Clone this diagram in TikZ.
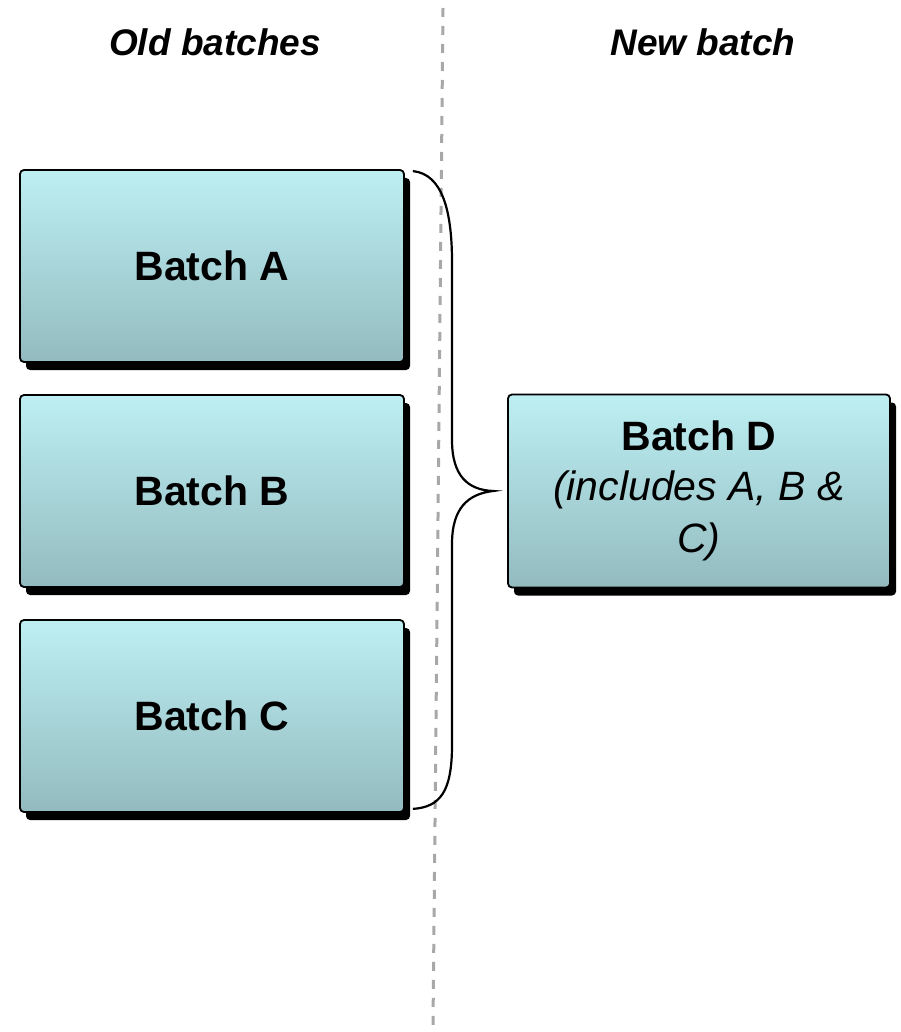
\documentclass[tikz,border=0pt]{standalone}
\usepackage{fontspec}
\setmainfont{Liberation Sans}
\usetikzlibrary{shadows}
\definecolor{boxtop}{HTML}{BDEFF3}
\definecolor{boxbot}{HTML}{93BBBF}
\definecolor{divgray}{HTML}{A8A8A8}
\tikzset{
  batchbox/.style={rounded corners=4pt, draw=black, line width=1.8pt,
    top color=boxtop, bottom color=boxbot,
    minimum width=384pt, minimum height=192pt, inner sep=0pt,
    general shadow={fill=black, rounded corners=5pt, shadow xshift=6pt, shadow yshift=-8pt},
    font=\fontsize{41}{52}\selectfont\bfseries, align=center},
  heading/.style={font=\fontsize{37}{44}\selectfont\bfseries\itshape},
  divider/.style={divgray, line width=3pt, dash pattern=on 9pt off 9pt},
  bracket/.style={black, line width=2.2pt}
}
\begin{document}
\begin{tikzpicture}[x=1pt,y=-1pt]
\useasboundingbox (0,0) rectangle (900,1032);
\coordinate (dtop) at (443,8);
\coordinate (dbot) at (433,1025);
\draw[divider] (dtop) -- (dbot);
\node[heading] (old) at (215,42) {Old batches};
\node[heading] (new) at (703,42) {New batch};
\node[batchbox] (A) at (212,266) {Batch A};
\node[batchbox] (B) at (212,491) {Batch B};
\node[batchbox] (C) at (212,716) {Batch C};
\node[batchbox, minimum width=382pt, minimum height=193pt] (D) at (699,491)
  {Batch D\\[-2pt]{\mdseries\itshape (includes A, B \&}\\{\mdseries\itshape C)}};
\coordinate (btop) at ([xshift=8pt,yshift=-2pt]A.north east);
\coordinate (bbot) at ([xshift=8pt,yshift=4pt]C.south east);
\coordinate (btip) at ([xshift=-14pt]D.west);
\draw[bracket] (btop) .. controls (442,174) and (452,210) .. (452,262)
  -- (452,440) .. controls (452,476) and (468,490) .. (btip)
  .. controls (468,494) and (452,508) .. (452,544)
  -- (452,745) .. controls (452,792) and (440,807) .. (bbot);
\end{tikzpicture}
\end{document}
